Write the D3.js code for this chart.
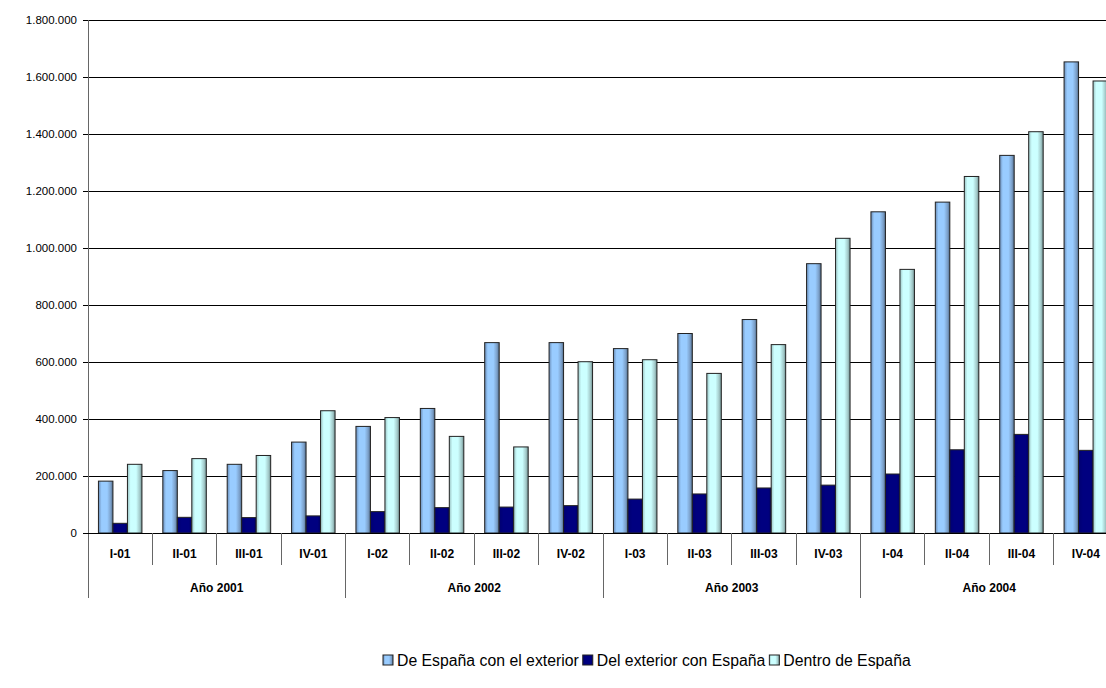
<!DOCTYPE html>
<html>
<head>
<meta charset="utf-8">
<script src="https://cdn.jsdelivr.net/npm/d3@7"></script>
<style>
  body { margin: 0; background: #fff; }
  svg { display: block; font-family: Arial, "Liberation Sans", sans-serif; }
</style>
</head>
<body>
<svg id="chart" width="1106" height="688"></svg>
<script>
const categories = ["I-01","II-01","III-01","IV-01","I-02","II-02","III-02","IV-02","I-03","II-03","III-03","IV-03","I-04","II-04","III-04","IV-04"];
const years = ["Año 2001","Año 2002","Año 2003","Año 2004"];
const seriesNames = ["De España con el exterior","Del exterior con España","Dentro de España"];
const deEspana   = [182000,219000,241000,319000,374000,437000,668000,668000,647000,700000,749000,945000,1127000,1161000,1325000,1653000];
const delExterior= [34000,55000,54000,60000,75000,89000,91000,96000,119000,137000,158000,168000,207000,292000,346000,290000];
const dentro     = [241000,261000,272000,429000,405000,339000,302000,601000,608000,560000,661000,1034000,925000,1251000,1408000,1586000];
const yTicks = [0,200000,400000,600000,800000,1000000,1200000,1400000,1600000,1800000];

(function () {
const values = [deEspana, delExterior, dentro];
const svg = d3.select("#chart");

const pl = 88, pr = 1118, pt = 20, pb = 533;
const x0 = d3.scaleBand().domain(categories).range([pl, pr]).paddingInner(0).paddingOuter(0);
const x1 = d3.scaleBand().domain(d3.range(3)).range([0, x0.bandwidth()]).paddingInner(0).paddingOuter(0.72);
const y = d3.scaleLinear().domain([0, 1800000]).range([pb, pt]);

const fmt = v => d3.format(",")(v).replace(/,/g, ".");

const defs = svg.append("defs");
const grads = [
  {id: "g0", stops: [[0,"#6a8cb6"],[0.22,"#99ccff"],[0.6,"#99ccff"],[0.85,"#7b9fc8"],[1,"#4f6a88"]]},
  {id: "g1", stops: [[0,"#000070"],[0.3,"#000080"],[0.8,"#000080"],[1,"#000060"]]},
  {id: "g2", stops: [[0,"#9cc3c3"],[0.22,"#ccffff"],[0.6,"#ccffff"],[0.85,"#a3c9c9"],[1,"#6f8f8f"]]}
];
grads.forEach(g => {
  const lg = defs.append("linearGradient").attr("id", g.id).attr("x1","0").attr("x2","1").attr("y1","0").attr("y2","0");
  g.stops.forEach(s => lg.append("stop").attr("offset", s[0]).attr("stop-color", s[1]));
});

svg.append("g").selectAll("line").data(yTicks).join("line")
  .attr("x1", pl).attr("x2", pr)
  .attr("y1", d => y(d)).attr("y2", d => y(d))
  .attr("stroke", "#000").attr("stroke-width", 1).attr("shape-rendering", "crispEdges");

const yAxis = d3.axisLeft(y).tickValues(yTicks).tickFormat(fmt).tickSize(5).tickPadding(6);
const gy = svg.append("g").attr("transform", `translate(${pl},0)`).call(yAxis);
gy.select(".domain").remove();
gy.selectAll(".tick line").attr("stroke", "#000").attr("shape-rendering", "crispEdges");
gy.selectAll(".tick text").attr("font-size", 11.5).attr("fill", "#000").attr("font-family", "Arial, 'Liberation Sans', sans-serif");

const groups = svg.append("g").selectAll("g").data(categories).join("g")
  .attr("transform", d => `translate(${x0(d)},0)`);
groups.selectAll("rect").data((d, i) => values.map((s, k) => ({k, v: s[i]}))).join("rect")
  .attr("x", d => x1(d.k))
  .attr("width", x1.bandwidth())
  .attr("y", d => y(d.v))
  .attr("height", d => y(0) - y(d.v))
  .attr("fill", d => `url(#g${d.k})`)
  .attr("stroke", "#222").attr("stroke-width", 1);

svg.append("line").attr("x1", pl).attr("x2", pl).attr("y1", pt).attr("y2", 598)
  .attr("stroke", "#666").attr("stroke-width", 1).attr("shape-rendering", "crispEdges");
svg.append("line").attr("x1", pl).attr("x2", pr).attr("y1", pb).attr("y2", pb)
  .attr("stroke", "#000").attr("stroke-width", 1).attr("shape-rendering", "crispEdges");

svg.append("g").selectAll("line").data(categories).join("line")
  .attr("x1", (d, i) => pl + (i + 1) * x0.step())
  .attr("x2", (d, i) => pl + (i + 1) * x0.step())
  .attr("y1", pb).attr("y2", (d, i) => ((i + 1) % 4 === 0) ? 598 : 565)
  .attr("stroke", "#666").attr("stroke-width", 1).attr("shape-rendering", "crispEdges");

svg.append("g").selectAll("text").data(categories).join("text")
  .attr("x", d => x0(d) + x0.bandwidth() / 2)
  .attr("y", 558)
  .attr("text-anchor", "middle").attr("font-size", 12).attr("font-weight", "bold")
  .text(d => d);

svg.append("g").selectAll("text").data(years).join("text")
  .attr("x", (d, i) => pl + (i * 4 + 2) * x0.step())
  .attr("y", 592)
  .attr("text-anchor", "middle").attr("font-size", 12).attr("font-weight", "bold")
  .text(d => d);

const legend = svg.append("g").attr("transform", "translate(383,666)");
let lx = 0;
seriesNames.forEach((name, k) => {
  const g = legend.append("g").attr("transform", `translate(${lx},0)`);
  g.append("rect").attr("x", 0).attr("y", -11).attr("width", 10).attr("height", 10)
    .attr("fill", `url(#g${k})`).attr("stroke", "#222").attr("stroke-width", 1);
  const t = g.append("text").attr("x", 14).attr("y", 0).attr("font-size", 15.8).text(name);
  lx += 14 + t.node().getComputedTextLength() + 4;
});
})();
</script>
</body>
</html>
